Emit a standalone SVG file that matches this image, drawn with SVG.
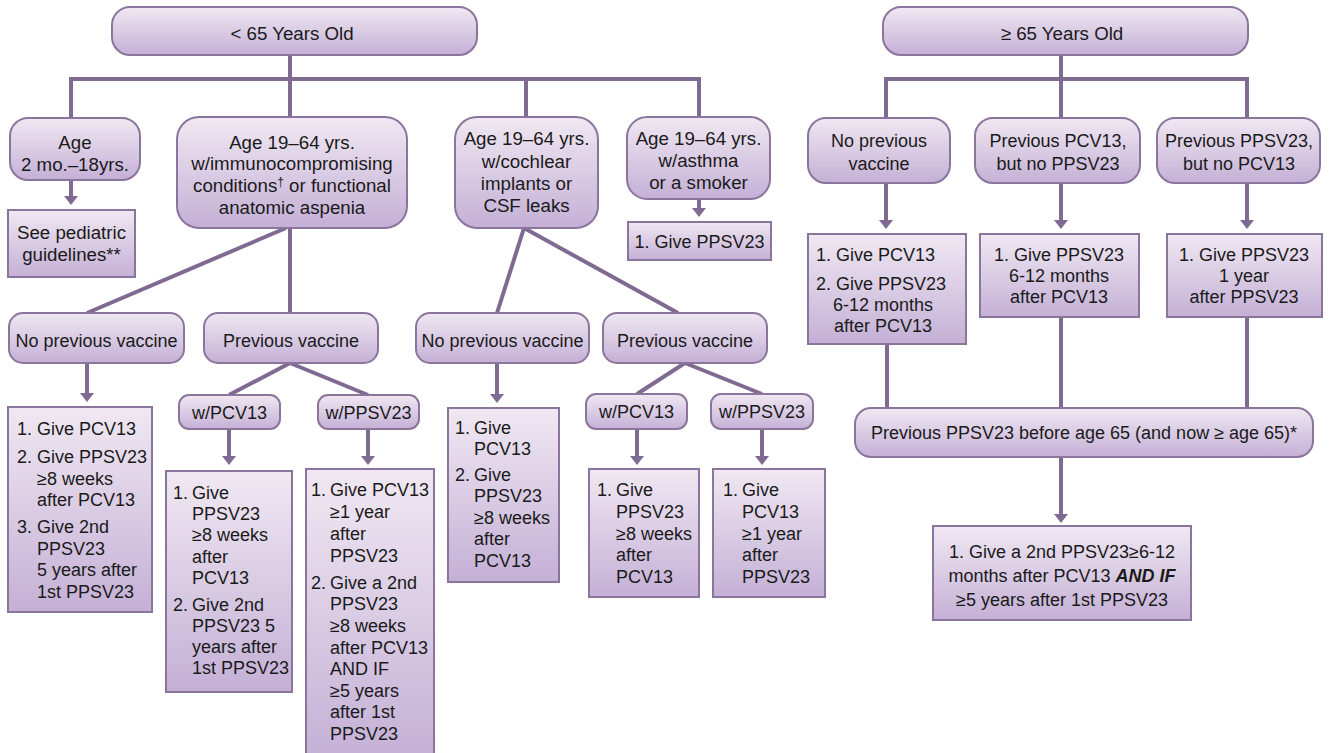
<svg xmlns="http://www.w3.org/2000/svg" width="1332" height="753" viewBox="0 0 1332 753">
<defs>
<linearGradient id="g" x1="0" y1="0" x2="0" y2="1">
<stop offset="0" stop-color="#f0e8f2"/>
<stop offset="1" stop-color="#c4b0d6"/>
</linearGradient>
<marker id="ah" markerUnits="userSpaceOnUse" markerWidth="9" markerHeight="14" refX="0" refY="7" orient="auto" viewBox="0 0 9 14">
<path d="M0,0 L9,7 L0,14 z" fill="#7f6a92"/>
</marker>
<style>
.b{fill:url(#g);stroke:#8b759c;stroke-width:2}
.t{font-family:"Liberation Sans",Arial,Helvetica,sans-serif;font-size:18px;fill:#1a1a1a}
.L{font-size:18.7px}
.c{text-anchor:middle}
.ln{fill:none;stroke:#7f6a92;stroke-width:4}
.ar{fill:none;stroke:#7f6a92;stroke-width:4;marker-end:url(#ah)}
</style>
</defs>
<rect width="1332" height="753" fill="#ffffff"/>

<g id="connectors">
<path class="ln" d="M290,55 V79 M71,118 V79 H699 V118 M290,79 V118 M526,79 V118"/>
<path class="ar" d="M71,180 V196"/>
<path class="ln" d="M286,228 L87,313 M290,228 V313"/>
<path class="ar" d="M87,363 V393"/>
<path class="ln" d="M290,363 L229,395 M290,363 L368,395"/>
<path class="ar" d="M229,429 V456"/>
<path class="ar" d="M368,429 V456"/>
<path class="ln" d="M524,228 L497,313 M524,228 L678,313"/>
<path class="ar" d="M699,199 V208"/>
<path class="ar" d="M497,363 V394"/>
<path class="ln" d="M685,363 L637,394 M685,363 L762,394"/>
<path class="ar" d="M637,429 V456"/>
<path class="ar" d="M762,429 V456"/>
<path class="ln" d="M1061,55 V79 M886,118 V79 H1247 V118 M1061,79 V118"/>
<path class="ar" d="M886,183 V220"/>
<path class="ar" d="M1061,183 V220"/>
<path class="ar" d="M1247,183 V220"/>
<path class="ln" d="M887,344 V408 M1061,317 V408 M1247,317 V408"/>
<path class="ar" d="M1061,457 V514"/>
</g>

<g id="n-under65">
<rect class="b" x="112" y="7" width="365" height="48" rx="18"/>
<text class="t L c" x="292" y="40">&lt; 65 Years Old</text>
</g>
<g id="n-age2mo">
<rect class="b" x="10" y="118" width="130" height="62" rx="18"/>
<text class="t L c" x="75" y="149">Age</text>
<text class="t L c" x="75" y="171">2 mo.–18yrs.</text>
</g>
<g id="n-pediatric">
<rect class="b" x="8" y="210" width="127" height="67"/>
<text class="t L c" x="71.5" y="239">See pediatric</text>
<text class="t L c" x="71.5" y="261">guidelines**</text>
</g>
<g id="n-immuno">
<rect class="b" x="177" y="117" width="230" height="111" rx="22"/>
<text class="t L c" x="292" y="149">Age 19–64 yrs.</text>
<text class="t L c" x="292" y="170">w/immunocompromising</text>
<text class="t L c" x="292" y="192">conditions<tspan font-size="12" dy="-6">†</tspan><tspan dy="6"> or functional</tspan></text>
<text class="t L c" x="292" y="214">anatomic aspenia</text>
</g>
<g id="n-cochlear">
<rect class="b" x="455" y="117" width="143" height="111" rx="22"/>
<text class="t L c" x="526.5" y="145">Age 19–64 yrs.</text>
<text class="t L c" x="526.5" y="167.5">w/cochlear</text>
<text class="t L c" x="526.5" y="189.5">implants or</text>
<text class="t L c" x="526.5" y="211.5">CSF leaks</text>
</g>
<g id="n-asthma">
<rect class="b" x="627" y="117" width="143" height="82" rx="20"/>
<text class="t L c" x="698.5" y="145">Age 19–64 yrs.</text>
<text class="t L c" x="698.5" y="167">w/asthma</text>
<text class="t L c" x="698.5" y="189">or a smoker</text>
</g>
<g id="n-asthma-give">
<rect class="b" x="628" y="222" width="143" height="38"/>
<text class="t c" x="699.5" y="247.5">1. Give PPSV23</text>
</g>

<g id="n-novac1">
<rect class="b" x="9" y="313" width="175" height="50" rx="14"/>
<text class="t c" x="96.5" y="346.5">No previous vaccine</text>
</g>
<g id="n-prevvac1">
<rect class="b" x="204" y="313" width="174" height="50" rx="14"/>
<text class="t c" x="291" y="346.5">Previous vaccine</text>
</g>
<g id="n-pcv1">
<rect class="b" x="179" y="395" width="101" height="34" rx="10"/>
<text class="t c" x="229.5" y="418.5">w/PCV13</text>
</g>
<g id="n-ppsv1">
<rect class="b" x="318" y="395" width="101" height="34" rx="10"/>
<text class="t c" x="368.5" y="418.5">w/PPSV23</text>
</g>
<g id="n-list1">
<rect class="b" x="8" y="407" width="144" height="205"/>
<text class="t" x="17" y="434.5">1.</text><text class="t" x="37" y="434.5">Give PCV13</text>
<text class="t" x="17" y="462.5">2.</text><text class="t" x="37" y="462.5">Give PPSV23</text>
<text class="t" x="37" y="484.5">≥8 weeks</text>
<text class="t" x="37" y="505.5">after PCV13</text>
<text class="t" x="17" y="532.5">3.</text><text class="t" x="37" y="532.5">Give 2nd</text>
<text class="t" x="37" y="554.5">PPSV23</text>
<text class="t" x="37" y="575.5">5 years after</text>
<text class="t" x="37" y="597.5">1st PPSV23</text>
</g>
<g id="n-list2">
<rect class="b" x="166" y="471" width="126" height="221"/>
<text class="t" x="173" y="498.5">1.</text><text class="t" x="192" y="498.5">Give</text>
<text class="t" x="192" y="519.5">PPSV23</text>
<text class="t" x="192" y="540.5">≥8 weeks</text>
<text class="t" x="192" y="562.5">after</text>
<text class="t" x="192" y="583.5">PCV13</text>
<text class="t" x="173" y="610.5">2.</text><text class="t" x="192" y="610.5">Give 2nd</text>
<text class="t" x="192" y="631.5">PPSV23 5</text>
<text class="t" x="192" y="652.5">years after</text>
<text class="t" x="192" y="673.5">1st PPSV23</text>
</g>
<g id="n-list3">
<rect class="b" x="306" y="469" width="128" height="290"/>
<text class="t" x="311" y="495.5">1.</text><text class="t" x="330" y="495.5">Give PCV13</text>
<text class="t" x="330" y="518">≥1 year</text>
<text class="t" x="330" y="539.5">after</text>
<text class="t" x="330" y="561.5">PPSV23</text>
<text class="t" x="311" y="588.5">2.</text><text class="t" x="330" y="588.5">Give a 2nd</text>
<text class="t" x="330" y="610">PPSV23</text>
<text class="t" x="330" y="631.5">≥8 weeks</text>
<text class="t" x="330" y="653.5">after PCV13</text>
<text class="t" x="330" y="675">AND IF</text>
<text class="t" x="330" y="696.5">≥5 years</text>
<text class="t" x="330" y="718">after 1st</text>
<text class="t" x="330" y="739.5">PPSV23</text>
</g>

<g id="n-novac2">
<rect class="b" x="416" y="313" width="173" height="50" rx="14"/>
<text class="t c" x="502.5" y="346.5">No previous vaccine</text>
</g>
<g id="n-prevvac2">
<rect class="b" x="603" y="313" width="164" height="50" rx="14"/>
<text class="t c" x="685" y="346.5">Previous vaccine</text>
</g>
<g id="n-pcv2">
<rect class="b" x="586" y="394" width="101" height="35" rx="10"/>
<text class="t c" x="636.5" y="418">w/PCV13</text>
</g>
<g id="n-ppsv2">
<rect class="b" x="711" y="394" width="102" height="35" rx="10"/>
<text class="t c" x="762" y="418">w/PPSV23</text>
</g>
<g id="n-list4">
<rect class="b" x="448" y="408" width="111" height="174"/>
<text class="t" x="455" y="433.5">1.</text><text class="t" x="474" y="433.5">Give</text>
<text class="t" x="474" y="455">PCV13</text>
<text class="t" x="455" y="480.5">2.</text><text class="t" x="474" y="480.5">Give</text>
<text class="t" x="474" y="502">PPSV23</text>
<text class="t" x="474" y="523.5">≥8 weeks</text>
<text class="t" x="474" y="545">after</text>
<text class="t" x="474" y="566.5">PCV13</text>
</g>
<g id="n-list5">
<rect class="b" x="589" y="469" width="110" height="128"/>
<text class="t" x="597" y="495.5">1.</text><text class="t" x="616" y="495.5">Give</text>
<text class="t" x="616" y="517.5">PPSV23</text>
<text class="t" x="616" y="539.5">≥8 weeks</text>
<text class="t" x="616" y="560.5">after</text>
<text class="t" x="616" y="582.5">PCV13</text>
</g>
<g id="n-list6">
<rect class="b" x="713" y="469" width="112" height="128"/>
<text class="t" x="723" y="495.5">1.</text><text class="t" x="742" y="495.5">Give</text>
<text class="t" x="742" y="517.5">PCV13</text>
<text class="t" x="742" y="539.5">≥1 year</text>
<text class="t" x="742" y="560.5">after</text>
<text class="t" x="742" y="582.5">PPSV23</text>
</g>

<g id="n-over65">
<rect class="b" x="883" y="7" width="365" height="48" rx="18"/>
<text class="t L c" x="1062" y="40">≥ 65 Years Old</text>
</g>
<g id="n-r-novac">
<rect class="b" x="808" y="118" width="142" height="65" rx="18"/>
<text class="t c" x="879" y="146.5">No previous</text>
<text class="t c" x="879" y="169.5">vaccine</text>
</g>
<g id="n-r-pcv">
<rect class="b" x="975" y="118" width="165" height="65" rx="18"/>
<text class="t c" x="1058" y="146.5">Previous PCV13,</text>
<text class="t c" x="1058" y="169.5">but no PPSV23</text>
</g>
<g id="n-r-ppsv">
<rect class="b" x="1157" y="118" width="163" height="65" rx="18"/>
<text class="t c" x="1239" y="146.5">Previous PPSV23,</text>
<text class="t c" x="1239" y="169.5">but no PCV13</text>
</g>
<g id="n-r-list1">
<rect class="b" x="808" y="234" width="158" height="110"/>
<text class="t" x="816" y="260.5">1. Give PCV13</text>
<text class="t" x="816" y="289.5">2. Give PPSV23</text>
<text class="t c" x="883" y="310.5">6-12 months</text>
<text class="t c" x="883" y="331.5">after PCV13</text>
</g>
<g id="n-r-list2">
<rect class="b" x="980" y="234" width="159" height="83"/>
<text class="t c" x="1059" y="260.5">1. Give PPSV23</text>
<text class="t c" x="1059" y="281.5">6-12 months</text>
<text class="t c" x="1059" y="302.5">after PCV13</text>
</g>
<g id="n-r-list3">
<rect class="b" x="1167" y="234" width="155" height="83"/>
<text class="t c" x="1244" y="260.5">1. Give PPSV23</text>
<text class="t c" x="1244" y="281.5">1 year</text>
<text class="t c" x="1244" y="302.5">after PPSV23</text>
</g>
<g id="n-r-prev">
<rect class="b" x="855" y="408" width="458" height="49" rx="16"/>
<text class="t c" x="1084" y="438.5">Previous PPSV23 before age 65 (and now ≥ age 65)*</text>
</g>
<g id="n-r-final">
<rect class="b" x="933" y="526" width="258" height="94"/>
<text class="t c" x="1062" y="557.5">1. Give a 2nd PPSV23≥6-12</text>
<text class="t c" x="1062" y="581.5">months after PCV13 <tspan font-weight="bold" font-style="italic">AND IF</tspan></text>
<text class="t c" x="1062" y="605.5">≥5 years after 1st PPSV23</text>
</g>
</svg>
